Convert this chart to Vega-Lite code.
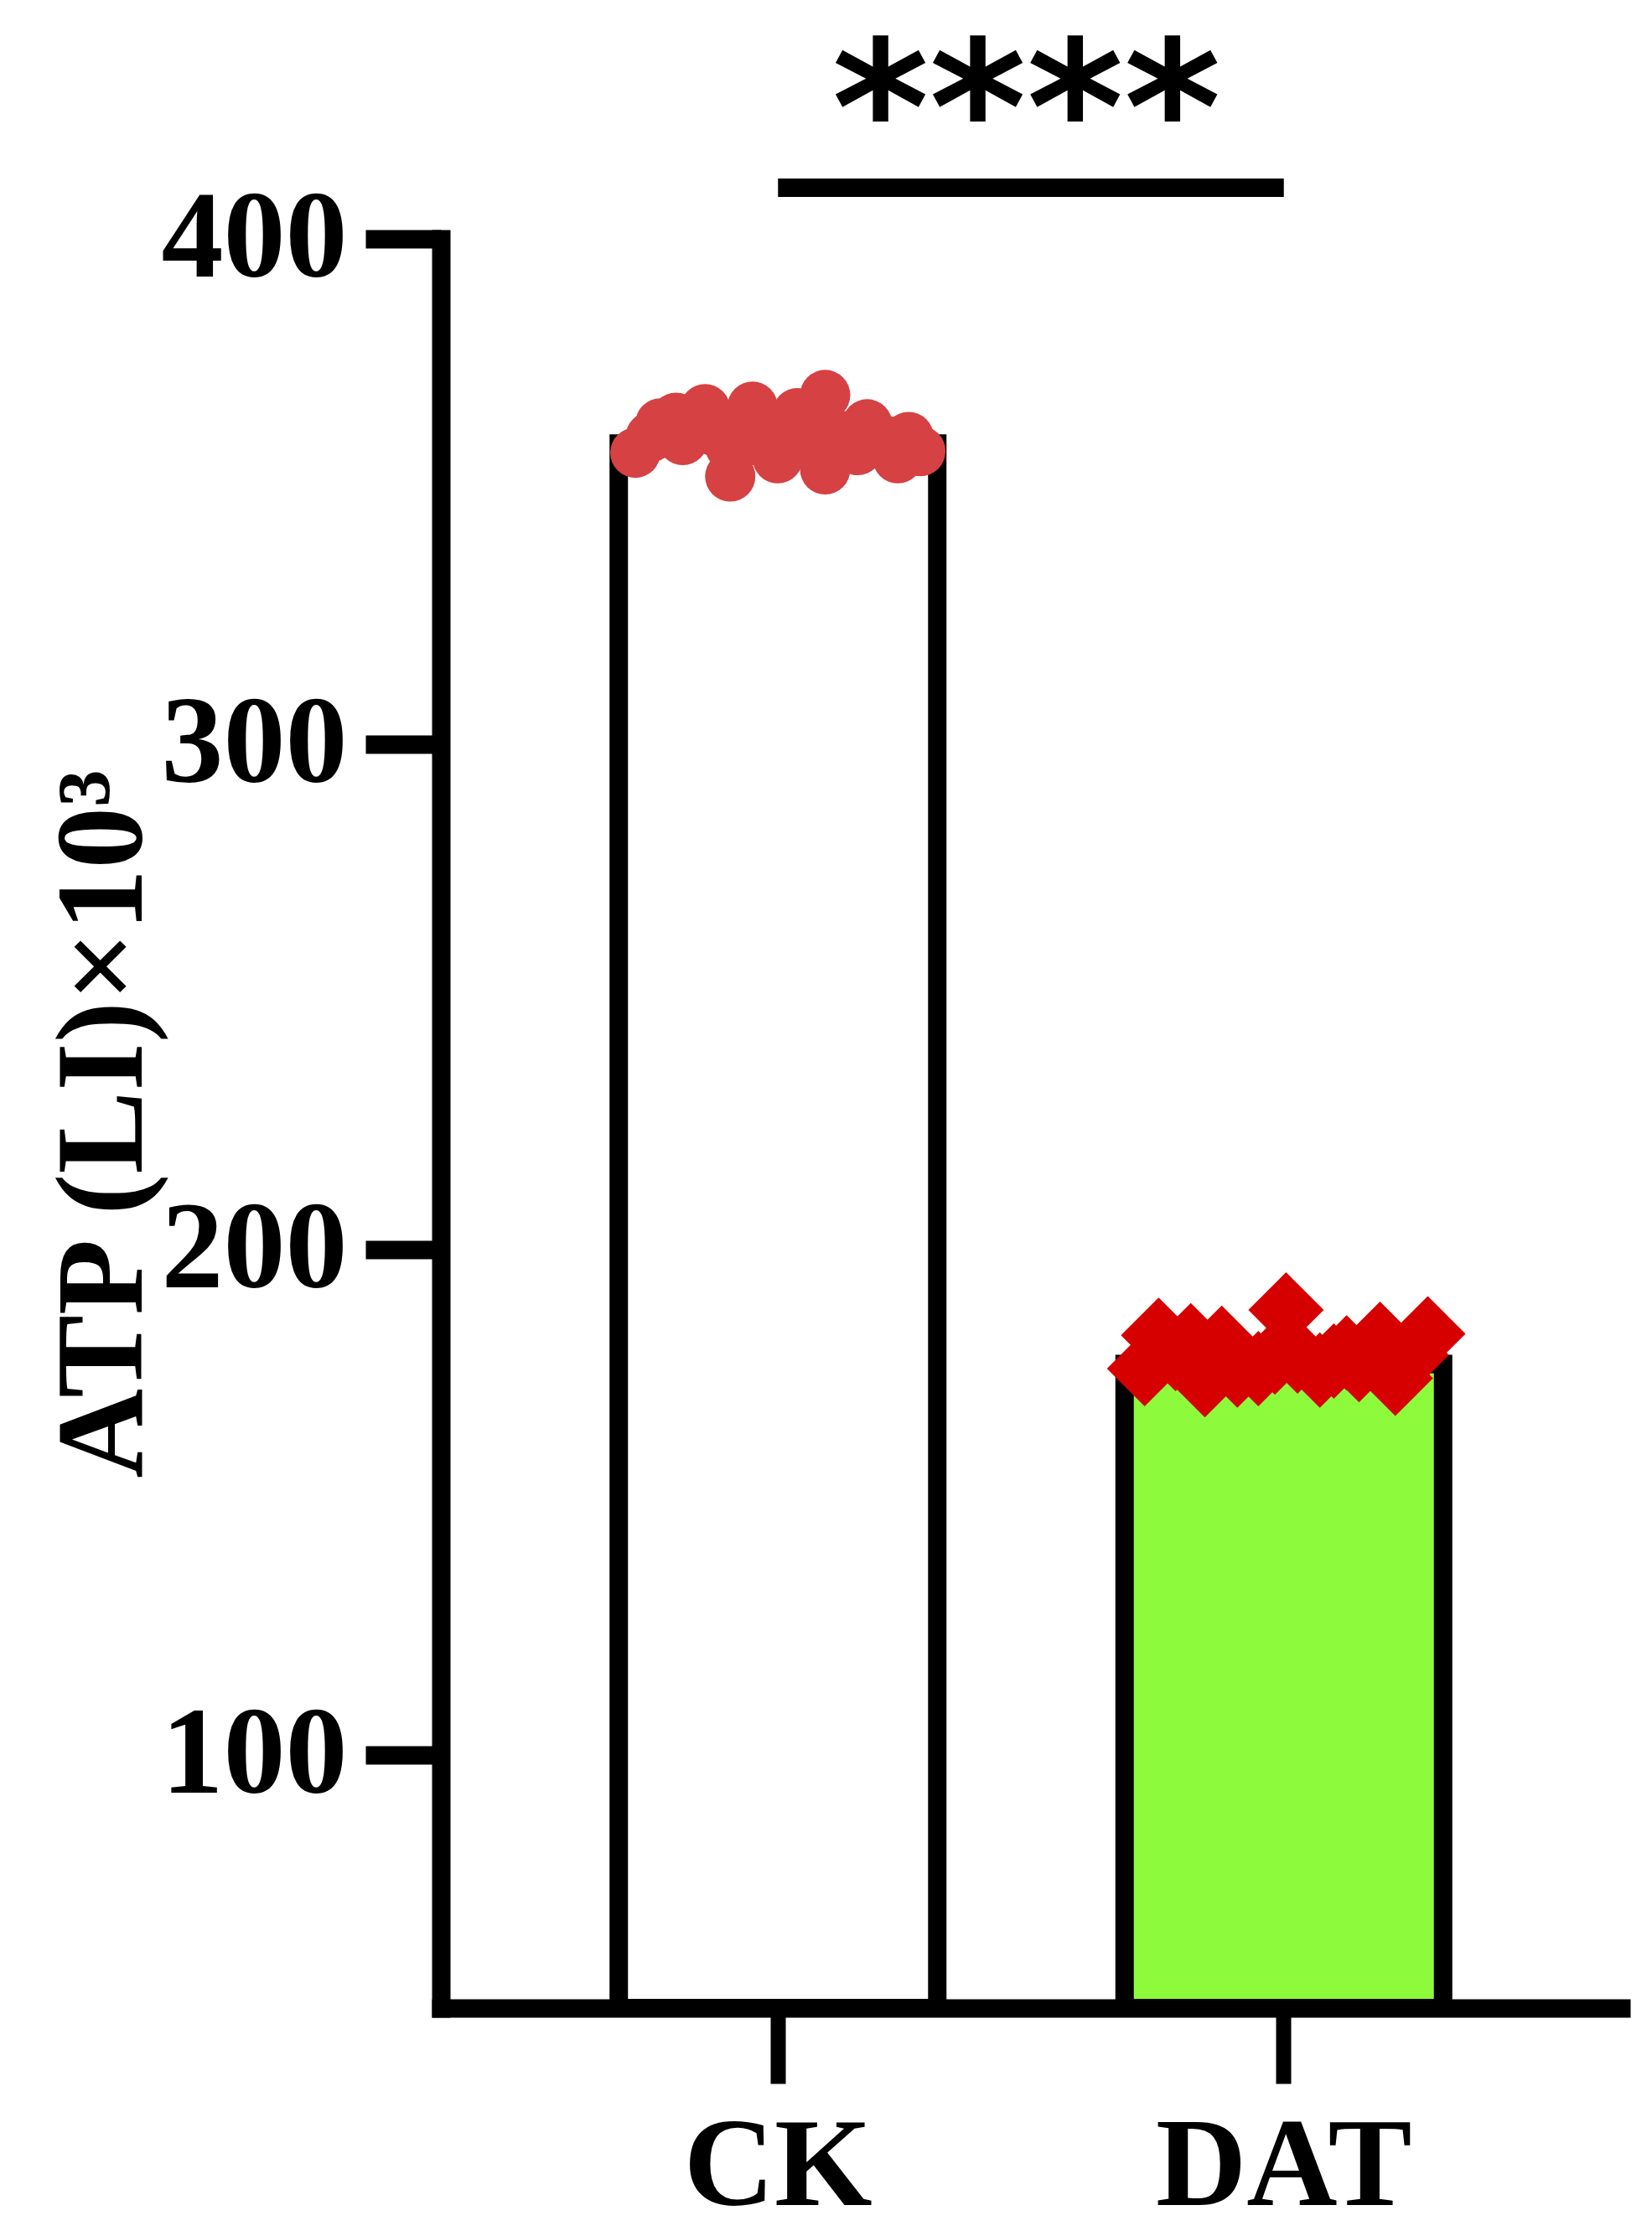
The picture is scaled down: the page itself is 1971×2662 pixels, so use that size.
{
  "$schema": "https://vega.github.io/schema/vega-lite/v6.json",
  "width": 1408,
  "height": 2111,
  "autosize": {"type": "none"},
  "padding": {"left": 526, "top": 285, "right": 37, "bottom": 266},
  "background": "white",
  "config": {"view": {"stroke": null}, "font": "Liberation Serif"},
  "resolve": {"scale": {"xOffset": "independent"}},
  "datasets": {
    "bars": [
      {"group": "CK", "mean": 359.5},
      {"group": "DAT", "mean": 177.4}
    ],
    "points": [
      {"group": "CK", "jit": 0.052, "value": 357.7},
      {"group": "CK", "jit": 0.131, "value": 363.5},
      {"group": "CK", "jit": 0.201, "value": 360.2},
      {"group": "CK", "jit": 0.271, "value": 366.3},
      {"group": "CK", "jit": 0.420, "value": 366.8},
      {"group": "CK", "jit": 0.350, "value": 353.0},
      {"group": "CK", "jit": 0.499, "value": 356.6},
      {"group": "CK", "jit": 0.648, "value": 369.1},
      {"group": "CK", "jit": 0.561, "value": 365.5},
      {"group": "CK", "jit": 0.648, "value": 354.4},
      {"group": "CK", "jit": 0.780, "value": 363.3},
      {"group": "CK", "jit": 0.876, "value": 356.6},
      {"group": "CK", "jit": 0.947, "value": 358.0},
      {"group": "CK", "jit": 0.350, "value": 358.9},
      {"group": "CK", "jit": 0.568, "value": 360.6},
      {"group": "CK", "jit": 0.718, "value": 361.0},
      {"group": "CK", "jit": 0.100, "value": 360.8},
      {"group": "CK", "jit": 0.180, "value": 364.6},
      {"group": "CK", "jit": 0.300, "value": 362.0},
      {"group": "CK", "jit": 0.400, "value": 360.0},
      {"group": "CK", "jit": 0.460, "value": 362.5},
      {"group": "CK", "jit": 0.620, "value": 363.0},
      {"group": "CK", "jit": 0.750, "value": 358.2},
      {"group": "CK", "jit": 0.830, "value": 360.2},
      {"group": "CK", "jit": 0.910, "value": 360.8},
      {"group": "DAT", "jit": 0.107, "value": 183.1},
      {"group": "DAT", "jit": 0.208, "value": 182.0},
      {"group": "DAT", "jit": 0.305, "value": 181.5},
      {"group": "DAT", "jit": 0.507, "value": 188.1},
      {"group": "DAT", "jit": 0.697, "value": 179.6},
      {"group": "DAT", "jit": 0.802, "value": 182.3},
      {"group": "DAT", "jit": 0.952, "value": 183.4},
      {"group": "DAT", "jit": 0.063, "value": 176.5},
      {"group": "DAT", "jit": 0.252, "value": 174.3},
      {"group": "DAT", "jit": 0.850, "value": 174.6},
      {"group": "DAT", "jit": 0.354, "value": 176.2},
      {"group": "DAT", "jit": 0.613, "value": 176.2},
      {"group": "DAT", "jit": 0.543, "value": 179.0},
      {"group": "DAT", "jit": 0.420, "value": 176.5},
      {"group": "DAT", "jit": 0.472, "value": 178.8},
      {"group": "DAT", "jit": 0.657, "value": 178.0},
      {"group": "DAT", "jit": 0.736, "value": 177.3},
      {"group": "DAT", "jit": 0.160, "value": 179.5},
      {"group": "DAT", "jit": 0.900, "value": 179.2}
    ],
    "sig": [
      {"from": "CK", "to": "DAT", "y": 410.1, "star_y": 412.9, "label": "****"}
    ]
  },
  "encoding": {
    "x": {
      "field": "group",
      "type": "nominal",
      "sort": ["CK", "DAT"],
      "scale": {"domain": ["CK", "DAT"], "paddingInner": 0.3703, "paddingOuter": 0.3517},
      "axis": {
        "title": null,
        "labelAngle": 0,
        "labelLimit": 0,
        "labelFont": "Liberation Serif",
        "labelFontWeight": "bold",
        "labelFontSize": 150,
        "labelColor": "black",
        "labelPadding": 25,
        "domainColor": "black",
        "domainWidth": 22,
        "domainCap": "square",
        "tickColor": "black",
        "tickWidth": 18,
        "tickSize": 90,
        "grid": false
      }
    },
    "y": {
      "type": "quantitative",
      "scale": {"domain": [50, 400], "nice": false, "zero": false},
      "axis": {
        "values": [100, 200, 300, 400],
        "title": "ATP (LI)×10³",
        "titleFont": "Liberation Serif",
        "titleFontWeight": "bold",
        "titleFontSize": 148,
        "titleColor": "black",
        "titleX": -358,
        "titleBaseline": "alphabetic",
        "titleLimit": 0,
        "labelLimit": 0,
        "labelFont": "Liberation Serif",
        "labelFontWeight": "bold",
        "labelFontSize": 148,
        "labelColor": "black",
        "labelPadding": 22,
        "domainColor": "black",
        "domainWidth": 22,
        "domainCap": "square",
        "tickColor": "black",
        "tickWidth": 22,
        "tickSize": 90,
        "grid": false
      }
    }
  },
  "layer": [
    {
      "data": {"name": "bars"},
      "mark": {"type": "bar", "stroke": "black", "strokeWidth": 22, "strokeJoin": "miter"},
      "encoding": {
        "y": {"field": "mean", "type": "quantitative"},
        "y2": {"datum": 50},
        "fill": {
          "field": "group",
          "type": "nominal",
          "scale": {"domain": ["CK", "DAT"], "range": ["#FFFFFF", "#8EFA3C"]},
          "legend": null
        }
      }
    },
    {
      "data": {"name": "points"},
      "mark": {"type": "point", "filled": true, "opacity": 1, "strokeWidth": 0},
      "encoding": {
        "y": {"field": "value", "type": "quantitative"},
        "xOffset": {"field": "jit", "type": "quantitative", "scale": {"domain": [0, 1], "range": [0, 380]}},
        "color": {
          "field": "group",
          "type": "nominal",
          "scale": {"domain": ["CK", "DAT"], "range": ["#D64143", "#D60000"]},
          "legend": null
        },
        "shape": {
          "field": "group",
          "type": "nominal",
          "scale": {"domain": ["CK", "DAT"], "range": ["circle", "diamond"]},
          "legend": null
        },
        "size": {
          "field": "group",
          "type": "nominal",
          "scale": {"domain": ["CK", "DAT"], "range": [3600, 8100]},
          "legend": null
        }
      }
    },
    {
      "data": {"name": "sig"},
      "mark": {"type": "rule", "strokeWidth": 22, "color": "black"},
      "encoding": {
        "x": {"field": "from", "type": "nominal"},
        "x2": {"field": "to"},
        "y": {"field": "y", "type": "quantitative"}
      }
    },
    {
      "data": {"name": "sig"},
      "mark": {"type": "text", "font": "DejaVu Sans", "fontWeight": "bold", "fontSize": 222, "baseline": "alphabetic", "align": "center", "color": "black"},
      "encoding": {
        "x": {"field": "from", "type": "nominal", "bandPosition": 1.28},
        "y": {"field": "star_y", "type": "quantitative"},
        "text": {"field": "label"}
      }
    }
  ]
}
